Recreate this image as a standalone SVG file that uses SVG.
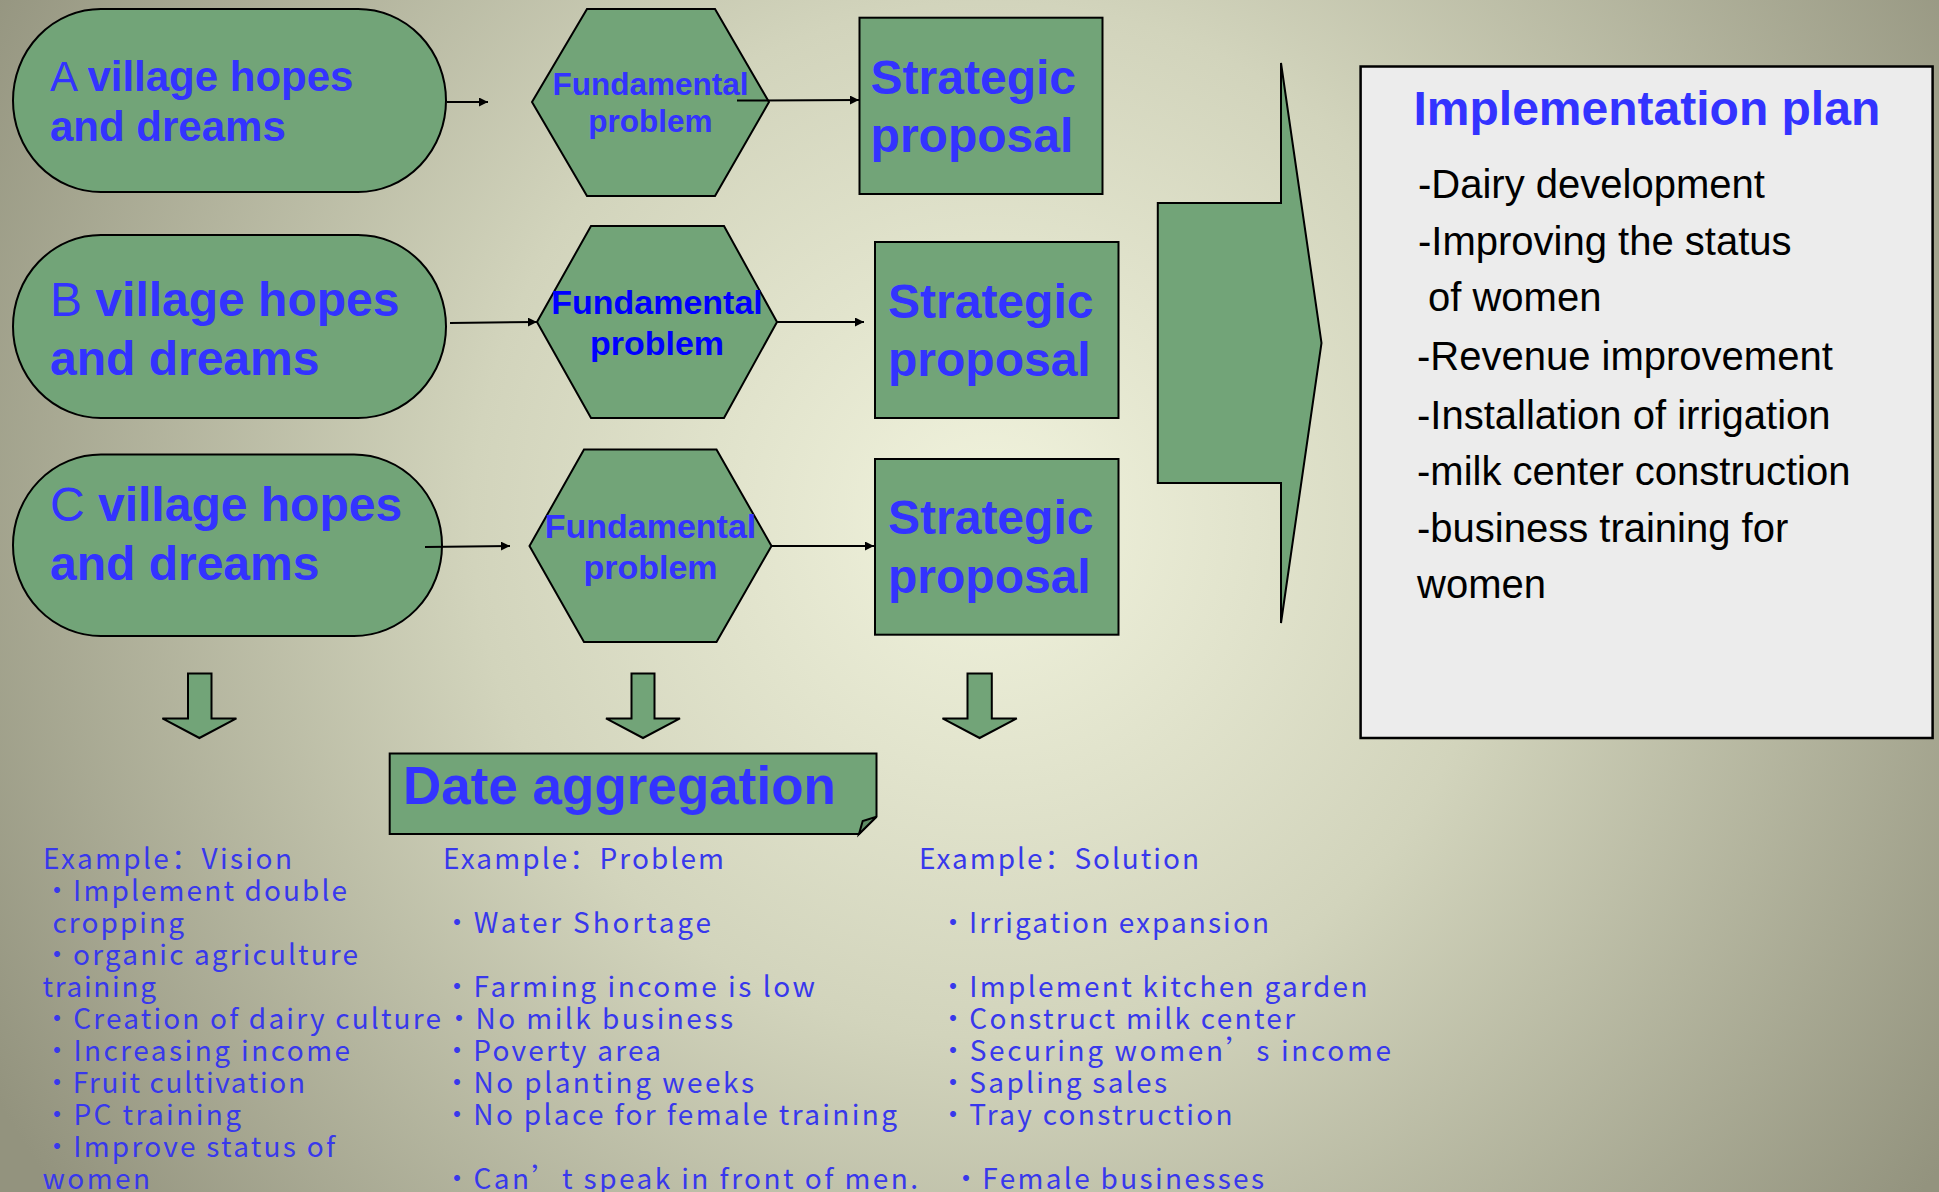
<svg xmlns="http://www.w3.org/2000/svg" width="1939" height="1192" viewBox="0 0 1939 1192">
  <defs>
    <radialGradient id="bg" gradientUnits="userSpaceOnUse" cx="990" cy="520" r="1150">
      <stop offset="0" stop-color="#f1f3dd"/>
      <stop offset="0.45" stop-color="#d2d4bc"/>
      <stop offset="1" stop-color="#93937e"/>
    </radialGradient>
    <marker id="ah" viewBox="0 0 10 10" refX="10" refY="5" markerWidth="4.5" markerHeight="4.5" orient="auto" markerUnits="strokeWidth">
      <path d="M0,0 L10,5 L0,10 z" fill="#000"/>
    </marker>
    <style>
      .shape { fill: #72a478; stroke: #000; stroke-width: 2; }
      .conn { stroke: #000; stroke-width: 2; fill: none; marker-end: url(#ah); }
      .big { font-family: "Liberation Sans", Arial, sans-serif; fill: #3333ff; }
      .b { font-weight: bold; }
      .hex { font-family: "Liberation Sans", Arial, sans-serif; font-weight: bold; fill: #3333ff; text-anchor: middle; }
      .hexdark { fill: #0000ff; }
      .plan { font-family: "Liberation Sans", Arial, sans-serif; font-size: 40px; fill: #000; }
      .ex { font-family: "Noto Sans CJK SC", sans-serif; font-size: 28px; fill: #3838ec; }
    </style>
  </defs>

  <rect x="0" y="0" width="1939" height="1192" fill="url(#bg)"/>

  <!-- row A -->
  <g id="village-a">
    <rect class="shape" x="13" y="9" width="433" height="183" rx="88" ry="91.5"/>
    <text class="big" font-size="42" x="50" y="90.5">A <tspan class="b">village hopes</tspan></text>
    <text class="big b" font-size="42" x="50" y="141">and dreams</text>
  </g>
  <g id="problem-a">
    <polygon class="shape" points="532,102 587,9 715,9 769,102 715,196 587,196"/>
    <text class="hex" font-size="31.5" x="650.5" y="94.5">Fundamental</text>
    <text class="hex" font-size="31.5" x="650.5" y="131.5">problem</text>
  </g>
  <g id="proposal-a">
    <rect class="shape" x="859.5" y="17.7" width="243" height="176.3"/>
    <text class="big b" font-size="48" x="870.6" y="94">Strategic</text>
    <text class="big b" font-size="48" x="870.6" y="151.5">proposal</text>
  </g>

  <!-- row B -->
  <g id="village-b">
    <rect class="shape" x="13" y="235" width="433" height="183" rx="88" ry="91.5"/>
    <text class="big" font-size="48" x="50" y="316">B <tspan class="b">village hopes</tspan></text>
    <text class="big b" font-size="48" x="50" y="375">and dreams</text>
  </g>
  <g id="problem-b">
    <polygon class="shape" points="537,322 591,226 724,226 777,322 724,418 591,418"/>
    <text class="hex hexdark" font-size="34" x="657" y="313.5">Fundamental</text>
    <text class="hex hexdark" font-size="34" x="657" y="354.5">problem</text>
  </g>
  <g id="proposal-b">
    <rect class="shape" x="875" y="242" width="243.5" height="176"/>
    <text class="big b" font-size="48" x="888" y="318">Strategic</text>
    <text class="big b" font-size="48" x="888" y="376">proposal</text>
  </g>

  <!-- row C -->
  <g id="village-c">
    <rect class="shape" x="13" y="454.5" width="429" height="181.5" rx="88" ry="90.75"/>
    <text class="big" font-size="48" x="50" y="521">C <tspan class="b">village hopes</tspan></text>
    <text class="big b" font-size="48" x="50" y="580">and dreams</text>
  </g>
  <g id="problem-c">
    <polygon class="shape" points="529.5,546 584,449.5 716.5,449.5 771.5,546 716.5,642 584,642"/>
    <text class="hex" font-size="34" x="650.5" y="538">Fundamental</text>
    <text class="hex" font-size="34" x="650.5" y="578.5">problem</text>
  </g>
  <g id="proposal-c">
    <rect class="shape" x="875" y="459" width="243.5" height="175.7"/>
    <text class="big b" font-size="48" x="888" y="534">Strategic</text>
    <text class="big b" font-size="48" x="888" y="592.5">proposal</text>
  </g>

  <!-- flow arrows between the shapes -->
  <g id="connectors">
    <line class="conn" x1="447" y1="102" x2="488" y2="102"/>
    <line class="conn" x1="737" y1="100.5" x2="859" y2="100"/>
    <line class="conn" x1="450" y1="323" x2="537" y2="322"/>
    <line class="conn" x1="777" y1="322" x2="864" y2="322"/>
    <line class="conn" x1="425" y1="547" x2="510" y2="546"/>
    <line class="conn" x1="771.5" y1="546" x2="874" y2="546"/>
  </g>

  <!-- large arrow into the plan -->
  <g id="big-arrow">
    <polygon class="shape" points="1157.8,203 1281,203 1281,63 1321.5,343 1281,623 1281,483 1157.8,483"/>
  </g>

  <g id="implementation-plan">
    <rect x="1360.6" y="66.5" width="572" height="671.5" fill="#ececec" stroke="#000" stroke-width="2.5"/>
    <text class="big b" font-size="48" x="1413.5" y="125">Implementation plan</text>
    <text class="plan" x="1418" y="197.5">-Dairy development</text>
    <text class="plan" x="1418" y="255">-Improving the status</text>
    <text class="plan" x="1428" y="311">of women</text>
    <text class="plan" x="1417" y="370">-Revenue improvement</text>
    <text class="plan" x="1417" y="429">-Installation of irrigation</text>
    <text class="plan" x="1417" y="485">-milk center construction</text>
    <text class="plan" x="1417" y="542">-business training for</text>
    <text class="plan" x="1417" y="598">women</text>
  </g>

  <!-- down arrows -->
  <g id="down-arrow-1">
    <polygon class="shape" points="188,673.5 211.5,673.5 211.5,718.4 236.4,718.4 199.4,738 162.4,718.4 188,718.4"/>
  </g>
  <g id="down-arrow-2">
    <polygon class="shape" points="631.5,673.5 654.5,673.5 654.5,718.4 680,718.4 643,738 606,718.4 631.5,718.4"/>
  </g>
  <g id="down-arrow-3">
    <polygon class="shape" points="967.5,673.5 991.8,673.5 991.8,718.4 1016.8,718.4 979.6,738 942.5,718.4 967.5,718.4"/>
  </g>

  <g id="date-aggregation">
    <path class="shape" d="M389.7,753.5 H876.5 V816.7 L859,834 H389.7 Z" stroke-width="2.5"/>
    <path d="M859,834 L862.7,821 L876.5,816.7 Z" fill="#5f8c65" stroke="#000" stroke-width="2"/>
    <text class="big b" font-size="53" x="403" y="804">Date aggregation</text>
  </g>

  <!-- example lists -->
  <g id="examples-vision" class="ex">
    <text x="43" y="869" textLength="249" lengthAdjust="spacing">Example：Vision</text>
    <text x="43" y="901" textLength="304" lengthAdjust="spacing">・Implement double</text>
    <text x="52.5" y="933" textLength="131.5" lengthAdjust="spacing">cropping</text>
    <text x="43" y="965" textLength="315" lengthAdjust="spacing">・organic agriculture</text>
    <text x="42.5" y="997" textLength="113.5" lengthAdjust="spacing">training</text>
    <text x="43" y="1029" textLength="398" lengthAdjust="spacing">・Creation of dairy culture</text>
    <text x="43" y="1061" textLength="307" lengthAdjust="spacing">・Increasing income</text>
    <text x="43" y="1093" textLength="262" lengthAdjust="spacing">・Fruit cultivation</text>
    <text x="43" y="1125" textLength="198" lengthAdjust="spacing">・PC training</text>
    <text x="43" y="1157" textLength="292" lengthAdjust="spacing">・Improve status of</text>
    <text x="42.5" y="1189" textLength="107.5" lengthAdjust="spacing">women</text>
  </g>
  <g id="examples-problem" class="ex">
    <text x="443" y="869" textLength="281" lengthAdjust="spacing">Example：Problem</text>
    <text x="443" y="933" textLength="268" lengthAdjust="spacing">・Water Shortage</text>
    <text x="443" y="997" textLength="372" lengthAdjust="spacing">・Farming income is low</text>
    <text x="445" y="1029" textLength="288" lengthAdjust="spacing">・No milk business</text>
    <text x="443" y="1061" textLength="218" lengthAdjust="spacing">・Poverty area</text>
    <text x="443" y="1093" textLength="311" lengthAdjust="spacing">・No planting weeks</text>
    <text x="443" y="1125" textLength="454" lengthAdjust="spacing">・No place for female training</text>
    <text x="443" y="1189" textLength="475" lengthAdjust="spacing">・Can’t speak in front of men.</text>
  </g>
  <g id="examples-solution" class="ex">
    <text x="919" y="869" textLength="280" lengthAdjust="spacing">Example：Solution</text>
    <text x="939" y="933" textLength="330" lengthAdjust="spacing">・Irrigation expansion</text>
    <text x="939" y="997" textLength="428.5" lengthAdjust="spacing">・Implement kitchen garden</text>
    <text x="939" y="1029" textLength="356" lengthAdjust="spacing">・Construct milk center</text>
    <text x="939" y="1061" textLength="452" lengthAdjust="spacing">・Securing women’s income</text>
    <text x="939" y="1093" textLength="228" lengthAdjust="spacing">・Sapling sales</text>
    <text x="939" y="1125" textLength="293.5" lengthAdjust="spacing">・Tray construction</text>
    <text x="952" y="1189" textLength="312" lengthAdjust="spacing">・Female businesses</text>
  </g>
</svg>
